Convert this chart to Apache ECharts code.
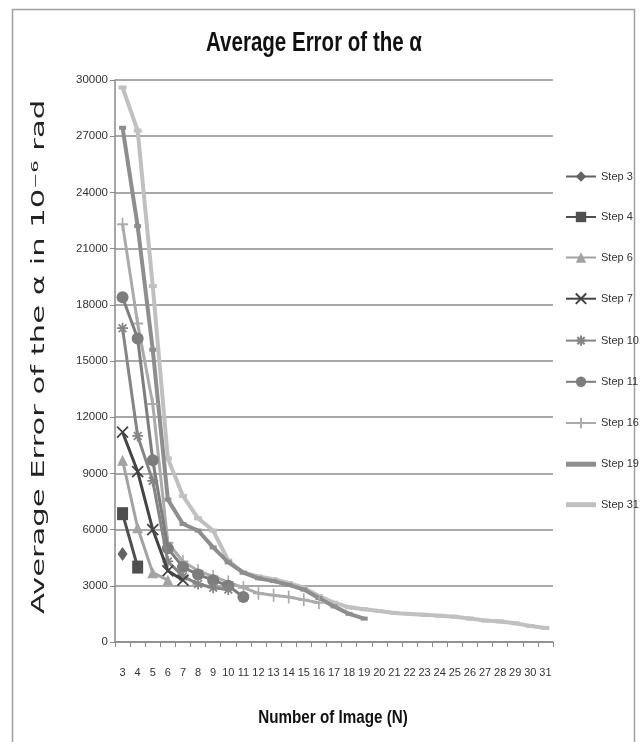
<!DOCTYPE html>
<html>
<head>
<meta charset="utf-8">
<script src="https://cdn.jsdelivr.net/npm/echarts@6/dist/echarts.min.js"></script>
<style>html,body{margin:0;padding:0;background:#fff;}#c{width:642px;height:742px;}</style>
</head>
<body>
<div id="c"></div>
<script>
const categories = ['3','4','5','6','7','8','9','10','11','12','13','14','15','16','17','18','19','20','21','22','23','24','25','26','27','28','29','30','31'];
const yTicks = [0, 3000, 6000, 9000, 12000, 15000, 18000, 21000, 24000, 27000, 30000];
const seriesNames = ['Step 3','Step 4','Step 6','Step 7','Step 10','Step 11','Step 16','Step 19','Step 31'];
const step3  = [4700];
const step4  = [6850, 4000];
const step6  = [9700, 6100, 3700, 3300];
const step7  = [11200, 9100, 6000, 3800, 3300];
const step10 = [16750, 11000, 8600, 4300, 3500, 3100, 2900, 2800];
const step11 = [18400, 16200, 9700, 5000, 4000, 3600, 3300, 3000, 2400];
const step16 = [22300, 17000, 12700, 5300, 4300, 3800, 3500, 3200, 2900, 2600, 2500, 2400, 2250, 2100];
const step19 = [27450, 22200, 15600, 7600, 6300, 5950, 5050, 4250, 3700, 3400, 3250, 3050, 2800, 2350, 1900, 1500, 1250];
const step31 = [29600, 27300, 19000, 9800, 7800, 6600, 5950, 4350, 3700, 3500, 3350, 3150, 2900, 2450, 2100, 1850, 1750, 1650, 1550, 1500, 1450, 1400, 1350, 1250, 1150, 1100, 1000, 850, 750];

const FONT = '"Liberation Sans", Arial, sans-serif';
const styles = [
  {color:'#626262', symbol:'diamond', size:[10,14], w:3},
  {color:'#4f4f4f', symbol:'rect', size:[11,13], w:3},
  {color:'#a3a3a3', symbol:'triangle', size:[11,11], w:3},
  {color:'#444444', symbol:'path://M0,0L10,10M10,0L0,10', size:[11,11], w:3, stroke:true},
  {color:'#858585', symbol:'path://M0,5L10,5M5,0L5,10M1.5,1.5L8.5,8.5M8.5,1.5L1.5,8.5', size:[11,11], w:3, stroke:true},
  {color:'#7d7d7d', symbol:'circle', size:12, w:3},
  {color:'#ababab', symbol:'path://M0,5L10,5M5,0L5,10', size:[11,13], w:3, stroke:true},
  {color:'#8e8e8e', symbol:'rect', size:[7,4], w:4, plainLegend:true},
  {color:'#c0c0c0', symbol:'rect', size:[8,4], w:4, plainLegend:true}
];
const allData = [step3, step4, step6, step7, step10, step11, step16, step19, step31];

const series = allData.map((d, i) => {
  const s = styles[i];
  return {
    name: seriesNames[i],
    type: 'line',
    data: d,
    symbol: s.symbol,
    symbolSize: s.size,
    showAllSymbol: true,
    lineStyle: {color: s.color, width: s.w},
    itemStyle: s.stroke ? {color: s.color, borderColor: s.color, borderWidth: 1.8} : {color: s.color, borderColor: s.color, borderWidth: 0},
    emphasis: {disabled: true},
    animation: false,
    z: 2 + (9 - i)
  };
});

const legendData = seriesNames.map((n, i) => styles[i].plainLegend
  ? {name: n, icon: 'path://M0,0H30V5H0Z', itemStyle: {color: styles[i].color}}
  : {name: n});

const chart = echarts.init(document.getElementById('c'), null, {renderer: 'canvas'});
chart.setOption({
  animation: false,
  backgroundColor: '#fff',
  grid: {left: 115, right: 89, top: 80, bottom: 100, containLabel: false},
  legend: {
    orient: 'vertical',
    left: 560, top: 166,
    itemWidth: 30, itemHeight: 13, itemGap: 29.5,
    textStyle: {fontFamily: FONT, fontSize: 11, color: '#333'},
    data: legendData
  },
  xAxis: {
    type: 'category',
    data: categories,
    boundaryGap: true,
    axisLine: {lineStyle: {color: '#8a8a8a', width: 1.5}},
    axisTick: {show: true, interval: 0, length: 5, lineStyle: {color: '#8a8a8a'}},
    axisLabel: {interval: 0, margin: 25, fontFamily: FONT, fontSize: 11, color: '#333'}
  },
  yAxis: {
    type: 'value',
    min: yTicks[0], max: yTicks[yTicks.length - 1], interval: 3000,
    axisLine: {show: true, lineStyle: {color: '#8a8a8a', width: 1.5}},
    axisTick: {show: true, length: 5, lineStyle: {color: '#8a8a8a'}},
    axisLabel: {margin: 7, fontFamily: FONT, fontSize: 11.5, color: '#333', formatter: v => String(v)},
    splitLine: {lineStyle: {color: '#8c8c8c', width: 1.5}}
  },
  graphic: [
    {type: 'rect', left: 10, top: 7, shape: {width: 622, height: 745}, style: {fill: 'none', stroke: '#a0a0a0', lineWidth: 1.5}, silent: true},
    {type: 'text', x: 314, y: 44, scaleX: 0.76, scaleY: 1,
     style: {text: 'Average Error of the \u03b1', fontFamily: FONT, fontSize: 27, fontWeight: 'bold', fill: '#111', align: 'center', verticalAlign: 'middle'}},
    {type: 'text', x: 333, y: 718, scaleX: 0.8, scaleY: 1,
     style: {text: 'Number of Image (N)', fontFamily: FONT, fontSize: 19, fontWeight: 'bold', fill: '#111', align: 'center', verticalAlign: 'middle'}},
    {type: 'text', x: 40, y: 357, rotation: Math.PI / 2, scaleX: 1.8, scaleY: 1,
     style: {text: 'Average Error of the \u03b1 in 10\u207b\u2076 rad', fontFamily: '"DejaVu Sans", Verdana, sans-serif', fontSize: 17, fill: '#222', align: 'center', verticalAlign: 'middle'}}
  ],
  series: series
});
</script>
</body>
</html>
